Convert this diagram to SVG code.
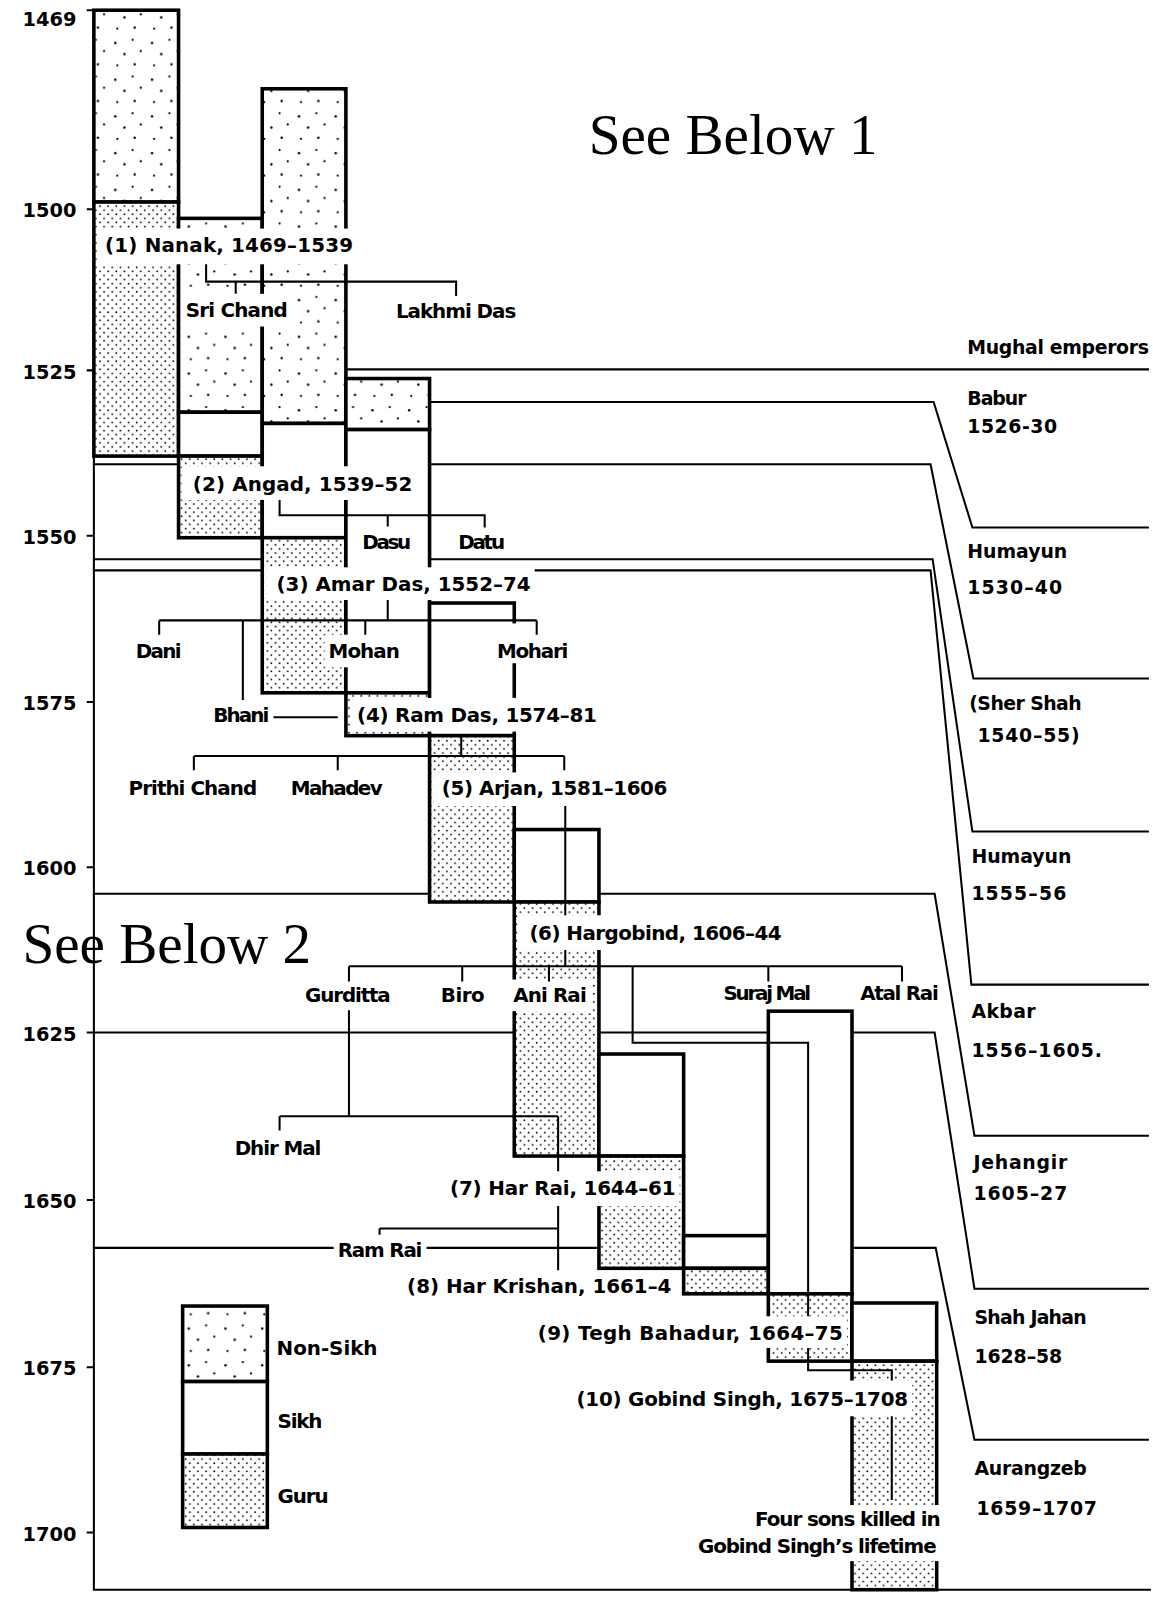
<svg xmlns="http://www.w3.org/2000/svg" width="1153" height="1600" viewBox="0 0 1153 1600">
<defs>
<pattern id="sparse" patternUnits="userSpaceOnUse" width="36" height="36">
<rect width="36" height="36" fill="#fff"/>
<circle cx="5" cy="6" r="1.2" fill="#000"/><circle cx="22" cy="3" r="1.1" fill="#000"/><circle cx="14" cy="17" r="1.2" fill="#000"/><circle cx="30" cy="14" r="1.1" fill="#000"/><circle cx="7" cy="28" r="1.1" fill="#000"/><circle cx="24" cy="27" r="1.2" fill="#000"/>
</pattern>
<pattern id="dense" patternUnits="userSpaceOnUse" width="8" height="8">
<rect width="8" height="8" fill="#fff"/>
<circle cx="2" cy="2" r="0.9" fill="#000"/><circle cx="6" cy="6" r="0.9" fill="#000"/>
</pattern>
<style>
.nx{fill:url(#sparse);stroke:#000;stroke-width:3.5}
.sk{fill:#fff;stroke:#000;stroke-width:3.5}
.gu{fill:url(#dense);stroke:#000;stroke-width:3.5}
.ln{fill:none;stroke:#000;stroke-width:2}
.bg{fill:#fff}
text{font-family:'DejaVu Sans',Lato,sans-serif;font-weight:700;font-size:19.5px;fill:#000}
.em text{font-size:18.5px}
.yr{text-anchor:end;font-size:19px}
.sb{font-family:'Liberation Serif','Times New Roman',serif;font-weight:400;font-size:56px}
</style>
</defs>
<rect width="1153" height="1600" fill="#fff"/>
<g transform="scale(1.020354)">
<g id="mughal-lines" class="ln">
<path d="M339,362 H1126"/>
<path d="M421,394 H915 L953,517 H1126"/>
<path d="M92,455 H912 L954,665 H1126"/>
<path d="M92,548 H914 L953,815 H1126"/>
<path d="M92,559 H912 L952,965 H1126"/>
<path d="M92,876 H916 L955,1113 H1126"/>
<path d="M92,1012 H916 L955,1263 H1126"/>
<path d="M92,1223 H917 L955,1411 H1126"/>
</g>
<g id="axis">
<path class="ln" d="M92,10 V1558 H1128" stroke-width="2.5"/>
<path class="ln" d="M85,10 H92 M85,205 H92 M85,363 H92 M85,525 H92 M85,688 H92 M85,850 H92 M85,1012 H92 M85,1176 H92 M85,1340 H92 M85,1502 H92"/>
<text class="yr" x="75" y="25">1469</text>
<text class="yr" x="75" y="213">1500</text>
<text class="yr" x="75" y="371">1525</text>
<text class="yr" x="75" y="533">1550</text>
<text class="yr" x="75" y="696">1575</text>
<text class="yr" x="75" y="858">1600</text>
<text class="yr" x="75" y="1020">1625</text>
<text class="yr" x="75" y="1184">1650</text>
<text class="yr" x="75" y="1348">1675</text>
<text class="yr" x="75" y="1510">1700</text>
</g>
<g id="nanak"><rect class="nx" x="92" y="10" width="83" height="188"/><rect class="gu" x="92" y="198" width="83" height="249"/></g>
<g id="angad"><rect class="nx" x="175" y="214" width="82" height="190"/><rect class="sk" x="175" y="404" width="82" height="43"/><rect class="gu" x="175" y="447" width="82" height="80"/></g>
<g id="amar-das"><rect class="nx" x="257" y="87" width="82" height="328"/><rect class="sk" x="257" y="415" width="82" height="112"/><rect class="gu" x="257" y="527" width="82" height="152"/></g>
<g id="ram-das"><rect class="nx" x="339" y="371" width="82" height="50"/><rect class="sk" x="339" y="421" width="82" height="258"/><rect class="gu" x="339" y="679" width="82" height="42"/></g>
<g id="arjan"><rect class="sk" x="421" y="591" width="83" height="130"/><rect class="gu" x="421" y="721" width="83" height="163"/></g>
<g id="hargobind"><rect class="sk" x="504" y="813" width="83" height="71"/><rect class="gu" x="504" y="884" width="83" height="249"/></g>
<g id="har-rai"><rect class="sk" x="587" y="1033" width="83" height="100"/><rect class="gu" x="587" y="1133" width="83" height="110"/></g>
<g id="har-krishan"><rect class="sk" x="670" y="1211" width="83" height="32"/><rect class="gu" x="670" y="1243" width="83" height="25"/></g>
<g id="tegh-bahadur"><rect class="sk" x="753" y="991" width="82" height="277"/><rect class="gu" x="753" y="1268" width="82" height="66"/></g>
<g id="gobind-singh"><rect class="sk" x="835" y="1277" width="83" height="57"/><rect class="gu" x="835" y="1334" width="83" height="224"/></g>
<g id="legend"><rect class="nx" x="179" y="1280" width="83" height="74"/><rect class="sk" x="179" y="1354" width="83" height="71"/><rect class="gu" x="179" y="1425" width="83" height="72"/>
<text x="271" y="1328" textLength="99">Non-Sikh</text>
<text x="272" y="1400" textLength="44">Sikh</text>
<text x="272" y="1473" textLength="50">Guru</text>
</g>
<g id="label-backgrounds" class="bg">
<rect x="95" y="224" width="255" height="35"/>
<rect x="179" y="288" width="107" height="32"/>
<rect x="178" y="457" width="230" height="33"/>
<rect x="261" y="556" width="263" height="32"/>
<rect x="318" y="622" width="78" height="32"/>
<rect x="483" y="611" width="78" height="39"/>
<rect x="343" y="684" width="247" height="33"/>
<rect x="425" y="757" width="233" height="33"/>
<rect x="508" y="897" width="262" height="34"/>
<rect x="296" y="962" width="90" height="28"/>
<rect x="500" y="960" width="80" height="31"/>
<rect x="437" y="1148" width="229" height="34"/>
<rect x="327" y="1212" width="91" height="26"/>
<rect x="395" y="1249" width="267" height="28"/>
<rect x="523" y="1290" width="307" height="31"/>
<rect x="561" y="1353" width="333" height="35"/>
<rect x="680" y="1475" width="244" height="55"/>
</g>
<g id="connectors" class="ln">
<path d="M202,259 V276 H447 V290 M231,276 V288"/>
<path d="M274,490 V505 H475 V517 M380,505 V516"/>
<path d="M380,588 V608 M156,608 H526 M156,608 V622 M238,608 V686 M358,608 V622 M526,608 V622 M268,703 H331"/>
<path d="M452,721 V741 M190,741 H553 M190,741 V755 M331,741 V755 M553,741 V755"/>
<path d="M554,790 V897 M554,931 V947"/>
<path d="M342,947 H884 M342,947 V962 M453,947 V962 M538,947 V962 M753,947 V962 M884,947 V962"/>
<path d="M620,947 V1022 H792 V1290 M792,1321 V1343 H874 V1353 M874,1388 V1470"/>
<path d="M342,990 V1094 M274,1094 H547 M274,1094 V1108 M547,1094 V1148 M547,1182 V1245 M372,1204 H547 M372,1204 V1210"/>
</g>
<g id="labels">
<text x="103" y="247" textLength="243">(1)  Nanak, 1469–1539</text>
<text x="182" y="311" textLength="100">Sri Chand</text>
<text x="388" y="312" textLength="118">Lakhmi Das</text>
<text x="189" y="481" textLength="215">(2)  Angad, 1539–52</text>
<text x="355" y="538" textLength="48">Dasu</text>
<text x="449" y="538" textLength="46">Datu</text>
<text x="271" y="579" textLength="249">(3)  Amar Das, 1552–74</text>
<text x="133" y="645" textLength="45">Dani</text>
<text x="322" y="645" textLength="70">Mohan</text>
<text x="487" y="645" textLength="70">Mohari</text>
<text x="209" y="708" textLength="55">Bhani</text>
<text x="350" y="708" textLength="235">(4)  Ram Das, 1574–81</text>
<text x="126" y="779" textLength="126">Prithi Chand</text>
<text x="285" y="779" textLength="90">Mahadev</text>
<text x="433" y="779" textLength="221">(5) Arjan, 1581–1606</text>
<text x="519" y="921" textLength="247">(6) Hargobind, 1606–44</text>
<text x="299" y="982" textLength="84">Gurditta</text>
<text x="432" y="982" textLength="43">Biro</text>
<text x="503" y="982" textLength="72">Ani Rai</text>
<text x="709" y="980" textLength="86">Suraj Mal</text>
<text x="843" y="980" textLength="77">Atal Rai</text>
<text x="230" y="1132" textLength="85">Dhir Mal</text>
<text x="441" y="1171" textLength="221">(7)  Har Rai, 1644–61</text>
<text x="331" y="1232" textLength="83">Ram Rai</text>
<text x="399" y="1267" textLength="259">(8)  Har Krishan, 1661–4</text>
<text x="527" y="1313" textLength="299">(9)  Tegh Bahadur, 1664–75</text>
<text x="565" y="1378" textLength="325">(10)  Gobind Singh, 1675–1708</text>
<text x="740" y="1496" textLength="182">Four sons killed in</text>
<text x="684" y="1522" textLength="234">Gobind Singh’s lifetime</text>
</g>
<g id="emperors" class="em">
<text x="948" y="347" textLength="178">Mughal emperors</text>
<text x="948" y="397" textLength="58">Babur</text>
<text x="948" y="424" textLength="88">1526-30</text>
<text x="948" y="547" textLength="98">Humayun</text>
<text x="948" y="582" textLength="93">1530–40</text>
<text x="950" y="696" textLength="110">(Sher Shah</text>
<text x="958" y="727" textLength="100">1540–55)</text>
<text x="952" y="846" textLength="98">Humayun</text>
<text x="952" y="882" textLength="93">1555–56</text>
<text x="952" y="998" textLength="63">Akbar</text>
<text x="952" y="1036" textLength="128">1556–1605.</text>
<text x="954" y="1146" textLength="92">Jehangir</text>
<text x="954" y="1176" textLength="92">1605–27</text>
<text x="955" y="1298" textLength="110">Shah Jahan</text>
<text x="955" y="1336" textLength="86">1628–58</text>
<text x="955" y="1446" textLength="110">Aurangzeb</text>
<text x="957" y="1485" textLength="118">1659–1707</text>
</g>
<g id="notes">
<text class="sb" x="577" y="151">See Below 1</text>
<text class="sb" x="22" y="944">See Below 2</text>
</g>
</g>
</svg>
